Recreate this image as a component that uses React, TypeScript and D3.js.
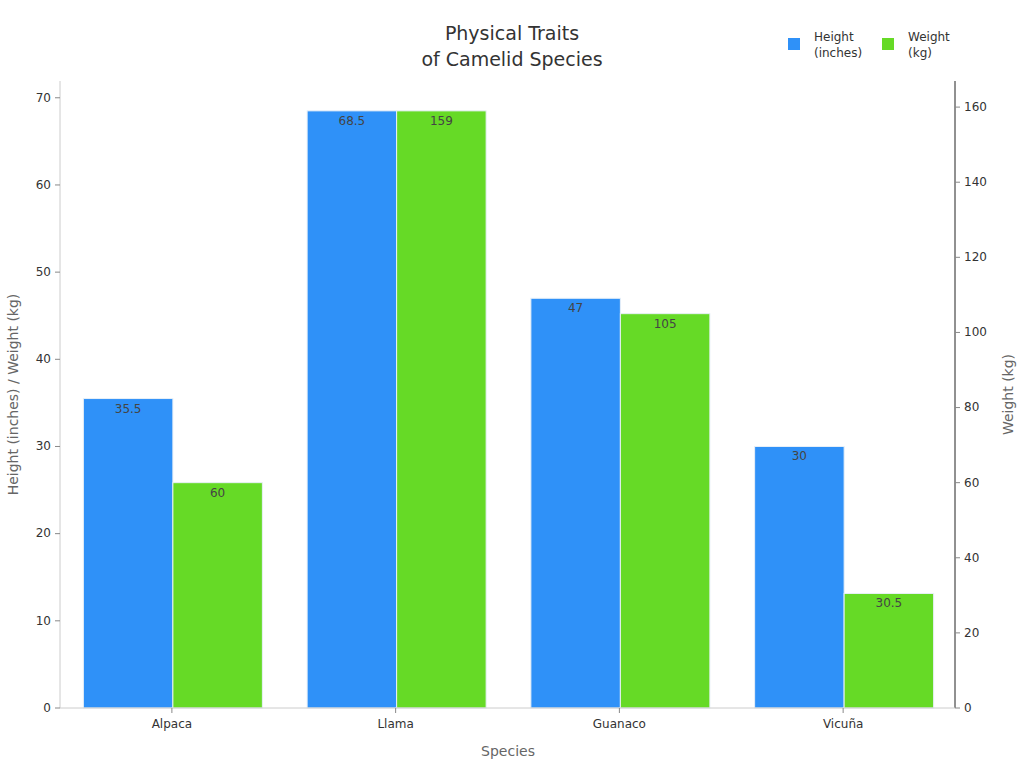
import React from 'react'
import * as d3 from 'd3'

const species = ['Alpaca', 'Llama', 'Guanaco', 'Vicuña']
const heightInches = [35.5, 68.5, 47, 30]
const weightKg = [60, 159, 105, 30.5]
const seriesNames = [['Height', '(inches)'], ['Weight', '(kg)']]
const colors = ['#2f91f8', '#66da26']

const W = 1024
const H = 768
const m = { top: 81, right: 69, bottom: 60, left: 60 }
const font = 'DejaVu Sans, sans-serif'

const App: React.FC = () => {
  const iw = W - m.left - m.right
  const ih = H - m.top - m.bottom

  const x = d3.scaleBand().domain(species).range([0, iw]).padding(0)
  const groupW = x.bandwidth() * 0.8
  const x1 = d3.scaleBand().domain(['h', 'w']).range([0, groupW]).padding(0)
  const yL = d3.scaleLinear().domain([0, d3.max(heightInches)! * 1.05]).range([ih, 0])
  const yR = d3.scaleLinear().domain([0, d3.max(weightKg)! * 1.05]).range([ih, 0])

  const ticksL = d3.range(0, 71, 10)
  const ticksR = d3.range(0, 161, 20)

  const bars = species.flatMap((s, i) => [
    { s, key: 'h', v: heightInches[i], y: yL(heightInches[i]), c: colors[0], label: String(heightInches[i]) },
    { s, key: 'w', v: weightKg[i], y: yR(weightKg[i]), c: colors[1], label: String(weightKg[i]) },
  ])

  return (
    <svg width={W} height={H} style={{ position: 'absolute', left: 0, top: 0, background: '#fff' }} fontFamily={font}>
      <text x={512} y={40} textAnchor="middle" fontSize={19} fill="#333">Physical Traits</text>
      <text x={512} y={66} textAnchor="middle" fontSize={19} fill="#333">of Camelid Species</text>

      {seriesNames.map((n, i) => (
        <g key={i} transform={`translate(${788 + i * 94},0)`}>
          <rect x={0} y={38} width={12} height={12} fill={colors[i]} />
          <text x={26} y={41} fontSize={12} fill="#333">{n[0]}</text>
          <text x={26} y={57} fontSize={12} fill="#333">{n[1]}</text>
        </g>
      ))}

      <g transform={`translate(${m.left},${m.top})`}>
        {bars.map((b, i) => {
          const bx = x(b.s)! + (x.bandwidth() - groupW) / 2 + x1(b.key)! + 1
          return (
            <g key={i}>
              <rect x={bx} y={b.y} width={x1.bandwidth()} height={ih - b.y} fill={b.c} stroke="#e8f0f8" strokeWidth={1} />
              <text x={bx + x1.bandwidth() / 2} y={b.y + 14} textAnchor="middle" fontSize={12} fill="#444">{b.label}</text>
            </g>
          )
        })}

        {/* left axis */}
        <line x1={0} x2={0} y1={0} y2={ih} stroke="#ccc" />
        {ticksL.map(t => (
          <g key={t} transform={`translate(0,${yL(t)})`}>
            <line x1={-5} x2={0} stroke="#888" />
            <text x={-9} dy="0.32em" textAnchor="end" fontSize={12} fill="#333">{t}</text>
          </g>
        ))}

        {/* right axis */}
        <line x1={iw} x2={iw} y1={0} y2={ih} stroke="#222" />
        {ticksR.map(t => (
          <g key={t} transform={`translate(${iw},${yR(t)})`}>
            <line x1={0} x2={5} stroke="#888" />
            <text x={9} dy="0.32em" textAnchor="start" fontSize={12} fill="#333">{t}</text>
          </g>
        ))}

        {/* bottom axis */}
        <line x1={0} x2={iw} y1={ih} y2={ih} stroke="#ccc" />
        {species.map(s => (
          <g key={s} transform={`translate(${x(s)! + x.bandwidth() / 2},${ih})`}>
            <line y1={0} y2={5} stroke="#888" />
            <text y={20} textAnchor="middle" fontSize={12} fill="#333">{s}</text>
          </g>
        ))}
      </g>

      <text x={508} y={756} textAnchor="middle" fontSize={14} fill="#666">Species</text>
      <text transform={`translate(18,${m.top + ih / 2}) rotate(-90)`} textAnchor="middle" fontSize={14} fill="#666">
        Height (inches) / Weight (kg)
      </text>
      <text transform={`translate(1013,${m.top + ih / 2}) rotate(-90)`} textAnchor="middle" fontSize={14} fill="#666">
        Weight (kg)
      </text>
    </svg>
  )
}

export default App
